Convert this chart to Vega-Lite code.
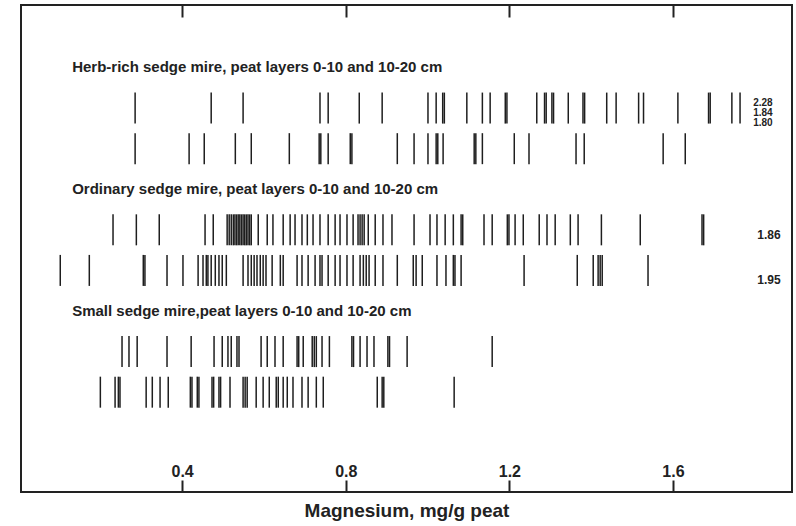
{
  "$schema": "https://vega.github.io/schema/vega-lite/v6.json",
  "width": 771,
  "height": 487,
  "autosize": "none",
  "padding": {"left": 21, "top": 5, "right": 4, "bottom": 34},
  "background": "white",
  "config": {
    "view": {"stroke": "#222", "strokeWidth": 2},
    "axis": {"domain": false, "grid": false},
    "text": {"font": "Liberation Sans", "color": "#222"}
  },
  "datasets": {
    "titles": [
      {"row": "t1", "label": "Herb-rich sedge mire, peat layers 0-10 and 10-20 cm"},
      {"row": "t2", "label": "Ordinary sedge mire, peat layers 0-10 and 10-20 cm"},
      {"row": "t3", "label": "Small sedge mire,peat layers 0-10 and 10-20 cm"}
    ],
    "notes": [
      {"row": "r1", "note": "2.28\n1.84\n1.80"},
      {"row": "r3", "note": "1.86"},
      {"row": "r4", "note": "1.95"}
    ],
    "bars": [
      {"row":"r1","mg":0.285},{"row":"r1","mg":0.471},{"row":"r1","mg":0.549},{"row":"r1","mg":0.737},{"row":"r1","mg":0.757},{"row":"r1","mg":0.833},{"row":"r1","mg":0.889},{"row":"r1","mg":1.001},{"row":"r1","mg":1.021},{"row":"r1","mg":1.037},{"row":"r1","mg":1.041},{"row":"r1","mg":1.096},{"row":"r1","mg":1.134},{"row":"r1","mg":1.153},{"row":"r1","mg":1.190},{"row":"r1","mg":1.194},{"row":"r1","mg":1.267},{"row":"r1","mg":1.286},{"row":"r1","mg":1.290},{"row":"r1","mg":1.304},{"row":"r1","mg":1.308},{"row":"r1","mg":1.344},{"row":"r1","mg":1.380},{"row":"r1","mg":1.384},{"row":"r1","mg":1.438},{"row":"r1","mg":1.461},{"row":"r1","mg":1.516},{"row":"r1","mg":1.528},{"row":"r1","mg":1.612},{"row":"r1","mg":1.687},{"row":"r1","mg":1.691},{"row":"r1","mg":1.744},{"row":"r1","mg":1.764},
      {"row":"r2","mg":0.285},{"row":"r2","mg":0.417},{"row":"r2","mg":0.454},{"row":"r2","mg":0.530},{"row":"r2","mg":0.569},{"row":"r2","mg":0.662},{"row":"r2","mg":0.735},{"row":"r2","mg":0.739},{"row":"r2","mg":0.757},{"row":"r2","mg":0.811},{"row":"r2","mg":0.815},{"row":"r2","mg":0.926},{"row":"r2","mg":0.967},{"row":"r2","mg":1.001},{"row":"r2","mg":1.021},{"row":"r2","mg":1.025},{"row":"r2","mg":1.038},{"row":"r2","mg":1.114},{"row":"r2","mg":1.118},{"row":"r2","mg":1.134},{"row":"r2","mg":1.212},{"row":"r2","mg":1.248},{"row":"r2","mg":1.363},{"row":"r2","mg":1.383},{"row":"r2","mg":1.576},{"row":"r2","mg":1.630},
      {"row":"r3","mg":0.231},{"row":"r3","mg":0.288},{"row":"r3","mg":0.344},{"row":"r3","mg":0.456},{"row":"r3","mg":0.476},{"row":"r3","mg":0.510},{"row":"r3","mg":0.515},{"row":"r3","mg":0.520},{"row":"r3","mg":0.525},{"row":"r3","mg":0.529},{"row":"r3","mg":0.533},{"row":"r3","mg":0.537},{"row":"r3","mg":0.541},{"row":"r3","mg":0.545},{"row":"r3","mg":0.549},{"row":"r3","mg":0.553},{"row":"r3","mg":0.557},{"row":"r3","mg":0.561},{"row":"r3","mg":0.565},{"row":"r3","mg":0.569},{"row":"r3","mg":0.586},{"row":"r3","mg":0.608},{"row":"r3","mg":0.622},{"row":"r3","mg":0.647},{"row":"r3","mg":0.664},{"row":"r3","mg":0.676},{"row":"r3","mg":0.693},{"row":"r3","mg":0.706},{"row":"r3","mg":0.720},{"row":"r3","mg":0.737},{"row":"r3","mg":0.757},{"row":"r3","mg":0.774},{"row":"r3","mg":0.786},{"row":"r3","mg":0.803},{"row":"r3","mg":0.818},{"row":"r3","mg":0.830},{"row":"r3","mg":0.835},{"row":"r3","mg":0.840},{"row":"r3","mg":0.845},{"row":"r3","mg":0.855},{"row":"r3","mg":0.872},{"row":"r3","mg":0.891},{"row":"r3","mg":0.913},{"row":"r3","mg":0.967},{"row":"r3","mg":1.006},{"row":"r3","mg":1.023},{"row":"r3","mg":1.043},{"row":"r3","mg":1.063},{"row":"r3","mg":1.082},{"row":"r3","mg":1.086},{"row":"r3","mg":1.138},{"row":"r3","mg":1.158},{"row":"r3","mg":1.195},{"row":"r3","mg":1.199},{"row":"r3","mg":1.214},{"row":"r3","mg":1.234},{"row":"r3","mg":1.273},{"row":"r3","mg":1.292},{"row":"r3","mg":1.312},{"row":"r3","mg":1.349},{"row":"r3","mg":1.368},{"row":"r3","mg":1.425},{"row":"r3","mg":1.520},{"row":"r3","mg":1.671},{"row":"r3","mg":1.675},
      {"row":"r4","mg":0.102},{"row":"r4","mg":0.173},{"row":"r4","mg":0.305},{"row":"r4","mg":0.309},{"row":"r4","mg":0.363},{"row":"r4","mg":0.402},{"row":"r4","mg":0.439},{"row":"r4","mg":0.451},{"row":"r4","mg":0.459},{"row":"r4","mg":0.463},{"row":"r4","mg":0.471},{"row":"r4","mg":0.481},{"row":"r4","mg":0.490},{"row":"r4","mg":0.498},{"row":"r4","mg":0.508},{"row":"r4","mg":0.549},{"row":"r4","mg":0.561},{"row":"r4","mg":0.569},{"row":"r4","mg":0.576},{"row":"r4","mg":0.583},{"row":"r4","mg":0.591},{"row":"r4","mg":0.598},{"row":"r4","mg":0.605},{"row":"r4","mg":0.620},{"row":"r4","mg":0.640},{"row":"r4","mg":0.647},{"row":"r4","mg":0.681},{"row":"r4","mg":0.693},{"row":"r4","mg":0.708},{"row":"r4","mg":0.725},{"row":"r4","mg":0.737},{"row":"r4","mg":0.742},{"row":"r4","mg":0.757},{"row":"r4","mg":0.774},{"row":"r4","mg":0.786},{"row":"r4","mg":0.803},{"row":"r4","mg":0.818},{"row":"r4","mg":0.835},{"row":"r4","mg":0.843},{"row":"r4","mg":0.850},{"row":"r4","mg":0.857},{"row":"r4","mg":0.872},{"row":"r4","mg":0.891},{"row":"r4","mg":0.926},{"row":"r4","mg":0.965},{"row":"r4","mg":0.972},{"row":"r4","mg":0.987},{"row":"r4","mg":1.023},{"row":"r4","mg":1.045},{"row":"r4","mg":1.063},{"row":"r4","mg":1.067},{"row":"r4","mg":1.082},{"row":"r4","mg":1.236},{"row":"r4","mg":1.366},{"row":"r4","mg":1.405},{"row":"r4","mg":1.417},{"row":"r4","mg":1.422},{"row":"r4","mg":1.427},{"row":"r4","mg":1.539},
      {"row":"r5","mg":0.253},{"row":"r5","mg":0.270},{"row":"r5","mg":0.290},{"row":"r5","mg":0.363},{"row":"r5","mg":0.422},{"row":"r5","mg":0.478},{"row":"r5","mg":0.498},{"row":"r5","mg":0.512},{"row":"r5","mg":0.520},{"row":"r5","mg":0.534},{"row":"r5","mg":0.539},{"row":"r5","mg":0.593},{"row":"r5","mg":0.608},{"row":"r5","mg":0.627},{"row":"r5","mg":0.647},{"row":"r5","mg":0.681},{"row":"r5","mg":0.685},{"row":"r5","mg":0.696},{"row":"r5","mg":0.718},{"row":"r5","mg":0.723},{"row":"r5","mg":0.728},{"row":"r5","mg":0.742},{"row":"r5","mg":0.760},{"row":"r5","mg":0.815},{"row":"r5","mg":0.819},{"row":"r5","mg":0.835},{"row":"r5","mg":0.852},{"row":"r5","mg":0.869},{"row":"r5","mg":0.903},{"row":"r5","mg":0.907},{"row":"r5","mg":0.950},{"row":"r5","mg":1.158},
      {"row":"r6","mg":0.200},{"row":"r6","mg":0.236},{"row":"r6","mg":0.244},{"row":"r6","mg":0.248},{"row":"r6","mg":0.312},{"row":"r6","mg":0.327},{"row":"r6","mg":0.346},{"row":"r6","mg":0.366},{"row":"r6","mg":0.420},{"row":"r6","mg":0.424},{"row":"r6","mg":0.437},{"row":"r6","mg":0.441},{"row":"r6","mg":0.473},{"row":"r6","mg":0.477},{"row":"r6","mg":0.490},{"row":"r6","mg":0.494},{"row":"r6","mg":0.517},{"row":"r6","mg":0.549},{"row":"r6","mg":0.554},{"row":"r6","mg":0.559},{"row":"r6","mg":0.581},{"row":"r6","mg":0.598},{"row":"r6","mg":0.613},{"row":"r6","mg":0.630},{"row":"r6","mg":0.635},{"row":"r6","mg":0.647},{"row":"r6","mg":0.657},{"row":"r6","mg":0.671},{"row":"r6","mg":0.693},{"row":"r6","mg":0.708},{"row":"r6","mg":0.728},{"row":"r6","mg":0.745},{"row":"r6","mg":0.877},{"row":"r6","mg":0.889},{"row":"r6","mg":0.893},{"row":"r6","mg":1.065}
    ]
  },
  "resolve": {"axis": {"x": "independent"}},
  "layer": [
    {
      "data": {"name": "bars"},
      "mark": {"type": "tick", "thickness": 1.5, "size": 31, "color": "#1e1e1e", "opacity": 1},
      "encoding": {
        "x": {
          "field": "mg", "type": "quantitative",
          "scale": {"domain": [0.006, 1.891], "nice": false, "zero": false},
          "axis": {
            "orient": "bottom", "values": [0.4, 0.8, 1.2, 1.6], "format": ".1f",
            "tickSize": -12, "tickWidth": 2, "tickColor": "#222",
            "labelFont": "Liberation Sans", "labelFontSize": 16, "labelFontWeight": "bold", "labelColor": "#222",
            "labelPadding": -17,
            "title": "Magnesium, mg/g peat", "titleFont": "Liberation Sans", "titleFontSize": 19, "titleFontWeight": "bold", "titleColor": "#222",
            "titleY": 18, "titleBaseline": "middle"
          }
        },
        "y": {
          "field": "row", "type": "nominal",
          "scale": {"type": "point", "domain": ["pad0","t1","r1","r2","t2","r3","r4","t3","r5","r6","pad1"], "padding": 1, "align": 0.27},
          "axis": null
        }
      }
    },
    {
      "data": {"name": "titles"},
      "mark": {"type": "text", "align": "left", "baseline": "middle", "fontSize": 15, "fontWeight": "bold"},
      "encoding": {
        "x": {"datum": 0.131, "type": "quantitative",
          "axis": {"orient": "top", "values": [0.4, 0.8, 1.2, 1.6], "labels": false, "tickSize": -12, "tickWidth": 2, "tickColor": "#222", "title": null}},
        "y": {"field": "row", "type": "nominal", "axis": null},
        "text": {"field": "label"}
      }
    },
    {
      "data": {"name": "notes"},
      "transform": [{"filter": "datum.row === 'r1'"}],
      "mark": {"type": "text", "align": "left", "baseline": "middle", "fontSize": 10, "fontWeight": "bold", "lineHeight": 10, "lineBreak": "\n", "dy": -5},
      "encoding": {
        "x": {"datum": 1.796, "type": "quantitative", "axis": null},
        "y": {"field": "row", "type": "nominal", "axis": null},
        "text": {"field": "note"}
      }
    },
    {
      "data": {"name": "notes"},
      "transform": [{"filter": "datum.row === 'r3'"}],
      "mark": {"type": "text", "align": "left", "baseline": "middle", "fontSize": 12, "fontWeight": "bold", "dy": 5},
      "encoding": {
        "x": {"datum": 1.806, "type": "quantitative", "axis": null},
        "y": {"field": "row", "type": "nominal", "axis": null},
        "text": {"field": "note"}
      }
    },
    {
      "data": {"name": "notes"},
      "transform": [{"filter": "datum.row === 'r4'"}],
      "mark": {"type": "text", "align": "left", "baseline": "middle", "fontSize": 12, "fontWeight": "bold", "dy": 10},
      "encoding": {
        "x": {"datum": 1.806, "type": "quantitative", "axis": null},
        "y": {"field": "row", "type": "nominal", "axis": null},
        "text": {"field": "note"}
      }
    }
  ]
}
